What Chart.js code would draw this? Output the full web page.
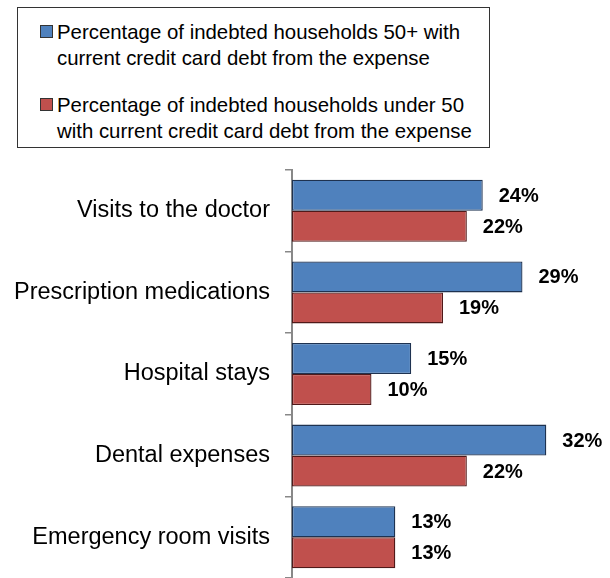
<!DOCTYPE html>
<html>
<head>
<meta charset="utf-8">
<script src="https://cdn.jsdelivr.net/npm/chart.js@4/dist/chart.umd.min.js"></script>
<style>
  html, body { margin: 0; padding: 0; background: #fff; }
  #wrap { position: relative; width: 610px; height: 578px; }
  #legend {
    position: absolute; left: 17px; top: 7px; width: 473px; height: 141px;
    box-sizing: border-box; border: 1px solid #333; background: #fff;
    font-family: "Liberation Sans", Arial, sans-serif; font-size: 20.4px; line-height: 26px; color: #000;
  }
  .item { position: absolute; left: 39px; white-space: nowrap; }
  .box { position: absolute; left: -17px; top: 6px; width: 11px; height: 11px; border: 1px solid #333; }
</style>
</head>
<body>
<div id="wrap">
  <canvas id="chart-0" width="610" height="578"></canvas>
  <div id="legend"></div>
</div>
<script>
var categories = [
    "Visits to the doctor",
    "Prescription medications",
    "Hospital stays",
    "Dental expenses",
    "Emergency room visits"
];
var over50 = [24, 29, 15, 32, 13];
var under50 = [22, 19, 10, 22, 13];
var seriesNames = [
    ["Percentage of indebted households 50+ with", "current credit card debt from the expense"],
    ["Percentage of indebted households under 50", "with current credit card debt from the expense"]
];

var barLabels = {
    id: 'barLabels',
    afterDatasetsDraw: function(chart) {
        var ctx = chart.ctx;
        ctx.save();
        ctx.font = 'bold 20px "Liberation Sans", Arial, sans-serif';
        ctx.fillStyle = '#000';
        ctx.textAlign = 'left';
        ctx.textBaseline = 'middle';
        chart.data.datasets.forEach(function(ds, i) {
            chart.getDatasetMeta(i).data.forEach(function(bar, j) {
                ctx.fillText(ds.data[j] + '%', bar.x + 16, bar.y + 1);
            });
        });
        ctx.restore();
    }
};

var configChart = {
    type: 'bar',
    data: {
        labels: categories,
        datasets: [{
            label: seriesNames[0].join(' '),
            data: over50,
            backgroundColor: "rgb(79, 129, 189)",
            borderColor: "rgb(30, 50, 80)",
            borderWidth: 1.3,
            borderSkipped: false,
            categoryPercentage: 0.76,
            barPercentage: 1.0
        }, {
            label: seriesNames[1].join(' '),
            data: under50,
            backgroundColor: "rgb(192, 80, 77)",
            borderColor: "rgb(80, 25, 25)",
            borderWidth: 1.3,
            borderSkipped: false,
            categoryPercentage: 0.76,
            barPercentage: 1.0
        }]
    },
    options: {
        indexAxis: 'y',
        responsive: false,
        animation: false,
        layout: { padding: { top: 170, right: 16, bottom: 0, left: 0 } },
        plugins: {
            legend: { display: false },
            tooltip: { enabled: false }
        },
        scales: {
            x: {
                display: false,
                min: 0,
                max: 38
            },
            y: {
                afterFit: function(scale) {
                    scale.width = 292;
                    scale.paddingTop = 0;
                    scale.paddingBottom = 0;
                },
                border: { display: true, color: '#888', width: 2 },
                grid: {
                    offset: true,
                    drawOnChartArea: false,
                    drawTicks: true,
                    tickLength: 7,
                    color: '#888',
                    lineWidth: 1.5
                },
                ticks: {
                    padding: 15,
                    color: '#000',
                    font: { family: '"Liberation Sans", Arial, sans-serif', size: 23.5 }
                }
            }
        }
    },
    plugins: [barLabels]
};

window.onload = function() {
    var ctx = document.getElementById("chart-0").getContext("2d");
    var myBar = new Chart(ctx, configChart);
    var legend = document.getElementById("legend");
    var tops = [11, 84];
    myBar.data.datasets.forEach(function(ds, i) {
        var item = document.createElement('div');
        item.className = 'item';
        item.style.top = tops[i] + 'px';
        item.innerHTML = '<span class="box" style="background:' + ds.backgroundColor + '"></span>' +
            seriesNames[i].join('<br>');
        legend.appendChild(item);
    });
};
</script>
</body>
</html>
